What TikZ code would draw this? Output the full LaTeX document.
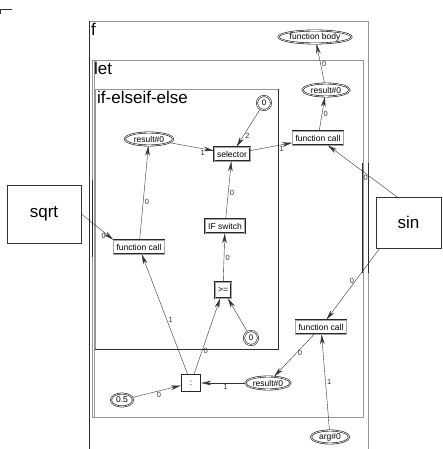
\documentclass[tikz,border=0pt]{standalone}
\usepackage{fontspec}
\setmainfont{Liberation Sans}
\usetikzlibrary{arrows.meta, shapes.geometric}
\definecolor{frmLine}{RGB}{150,150,150}
\definecolor{frmDark}{RGB}{45,45,45}
\definecolor{wireCol}{RGB}{50,50,50}

\begin{document}
\begin{tikzpicture}[x=1pt, y=-1pt,
        opbox/.style={rectangle, draw=black!85, line width=0.6pt, double=black!35, double distance=0.6pt, fill=white, inner xsep=3pt, inner ysep=1.5pt, minimum height=14pt, font=\fontsize{8.5}{9}\selectfont},
        valell/.style={ellipse, draw=black!90, line width=0.6pt, double, double distance=0.6pt, fill=white, inner xsep=0.5pt, inner ysep=0pt, minimum height=13pt, font=\fontsize{8.5}{9}\selectfont},
        constc/.style={circle, draw=black!90, line width=0.6pt, double, double distance=0.7pt, fill=white, inner sep=0.5pt, minimum size=14pt, font=\fontsize{8}{9}\selectfont},
        extbox/.style={rectangle, draw=black!80, semithick, font=\fontsize{17}{19}\selectfont},
        arr/.style={-{Stealth[length=10pt, width=4.5pt]}, wireCol, thin},
        lbl/.style={font=\fontsize{7.5}{8}\selectfont, inner sep=1.5pt},
        frm/.style={draw=frmLine, thin},
        frmtitle/.style={anchor=north west, inner sep=1pt, font=\fontsize{17}{19}\selectfont},
    ]
    \useasboundingbox (0,0) rectangle (442,449);
    % corner mark
    \draw[black!80] (0.5,14) -- (0.5,9) -- (12,9);
    % frames
    \draw[frm] (368,449) -- (368,21) -- (89,21);
    \draw[frmDark, semithick] (89,21) -- (89,449);
    \draw[frm] (92,60) rectangle (363,417);
    \draw[frm] (94,60) -- (94,417);
    \draw[frm] (95,349) -- (95,89) -- (278,89);
    \draw[frmDark, line width=1pt] (278,89) -- (278,349) -- (95,349);
    \draw[frmDark, line width=1pt] (362,163) -- (362,273) (368,163) -- (368,273);
    \draw[frmDark, semithick] (92,180) -- (92,257);
    \node[frmtitle] (ftitle) at (90,22) {f};
    \node[frmtitle] (lettitle) at (93,61) {let};
    \node[frmtitle] (iftitle) at (96,90) {if-elseif-else};
    % outer blocks
    \node[extbox, minimum width=74pt, minimum height=58pt] (sqrt) at (44,214) {sqrt};
    \node[extbox, minimum width=65pt, minimum height=51pt] (sin) at (408.5,222.5) {sin};
    % nodes
    \node[valell, minimum width=71pt] (body) at (315,37) {function body};
    \node[valell, minimum width=47pt] (resR) at (326,90) {result\#0};
    \node[opbox] (callR) at (318,138) {function call};
    \node[constc] (zeroT) at (264,103) {0};
    \node[valell, minimum width=48pt] (resL) at (149,139) {result\#0};
    \node[opbox] (sel) at (232,154) {selector};
    \node[opbox] (ifsw) at (225,226) {IF switch};
    \node[opbox] (callL) at (139,247) {function call};
    \node[opbox, minimum height=16pt] (geq) at (223,290) {>=};
    \node[constc] (zeroB) at (251,338) {0};
    \node[rectangle, draw=black!85, line width=1.4pt, fill=white, minimum width=19pt, minimum height=17pt, font=\fontsize{8.5}{9}\selectfont] (colon) at (191,383) {:};
    \node[valell, minimum width=22pt] (half) at (122,400) {0.5};
    \node[valell, minimum width=45pt] (resB) at (268,383) {result\#0};
    \node[opbox] (callB) at (321,327) {function call};
    \node[valell, minimum width=38pt] (arg) at (330,437) {arg\#0};
    % connectors
    \draw[arr] (callR) -- node[lbl, right] {0} (resR);
    \draw[arr] (resR) -- node[lbl, right] {0} (body);
    \draw[arr] (sel) -- node[lbl, pos=0.75, below] {1} (callR);
    \draw[arr] (resL) -- node[lbl, pos=0.75, below] {1} (sel);
    \draw[arr] (zeroT) -- node[lbl, pos=0.7, right] {2} (sel);
    \draw[arr] (ifsw) -- node[lbl, pos=0.45, right] {0} (sel);
    \draw[arr] (geq) -- node[lbl, right] {0} (ifsw);
    \draw[arr] (zeroB) -- (geq);
    \draw[arr] (colon) -- node[lbl, pos=0.3, right] {0} (geq);
    \draw[arr] (colon) -- node[lbl, pos=0.45, right] {1} (callL);
    \draw[arr] (callL) -- node[lbl, pos=0.4, right] {0} (resL);
    \draw[arr] (sqrt.east) -- node[lbl, pos=0.7, below] {0} (callL.north west);
    \draw[arr] ([xshift=21pt]sin.north west) -- node[lbl, pos=0.45, below] {0} (callR);
    \draw[arr] ([xshift=4pt]sin.south west) -- node[lbl, pos=0.45, left] {0} (callB);
    \draw[arr] (resB) -- node[lbl, pos=0.45, below] {1} (colon);
    \draw[arr] (half) -- node[lbl, pos=0.55, below] {0} (colon);
    \draw[arr] (callB) -- node[lbl, pos=0.45, right] {0} (resB);
    \draw[arr] (arg) -- node[lbl, pos=0.5, right] {1} (callB);
\end{tikzpicture}
\end{document}
